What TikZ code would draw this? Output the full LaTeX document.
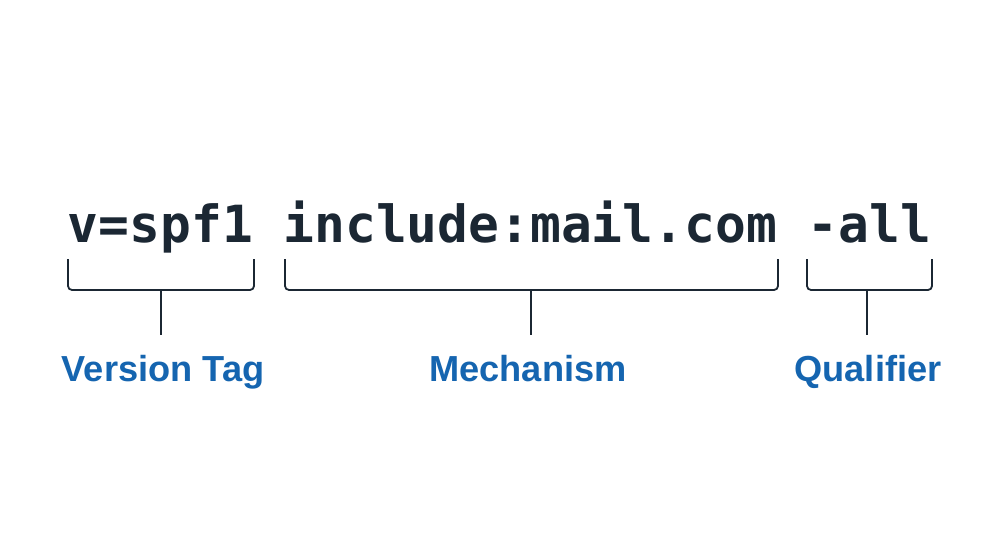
\documentclass[tikz,border=0pt]{standalone}
\usepackage{fontspec}
\setmainfont{Liberation Sans}
\newfontfamily\codefont{DejaVu Sans Mono}
\definecolor{ink}{HTML}{1B2733}
\definecolor{labblue}{HTML}{1565B0}
\begin{document}
\begin{tikzpicture}[x=1pt,y=-1pt,
  code/.style={inner sep=0pt,anchor=base,text=ink,font=\codefont\bfseries\fontsize{51.2}{60}\selectfont},
  lab/.style={inner sep=0pt,anchor=base,text=labblue,font=\bfseries\fontsize{36.2}{44}\selectfont},
  brace/.style={draw=ink,line width=1.8pt,rounded corners=4pt},
  stem/.style={draw=ink,line width=1.8pt}]
\useasboundingbox[fill=white] (0,0) rectangle (1000,545);
\node[code] (spf) at (499.5,243) {v=spf1 include:mail.com -all};
% brackets
\coordinate (b1) at (161,290);
\coordinate (b2) at (531,290);
\coordinate (b3) at (867,290);
\coordinate (s1) at (161,335);
\coordinate (s2) at (531,335);
\coordinate (s3) at (867,335);
\draw[brace] (68,259) -- (68,290) -- (254,290) -- (254,259);
\draw[brace] (285,259) -- (285,290) -- (778,290) -- (778,259);
\draw[brace] (807,259) -- (807,290) -- (932,290) -- (932,259);
\draw[stem] (b1) -- (s1);
\draw[stem] (b2) -- (s2);
\draw[stem] (b3) -- (s3);
% labels
\node[lab] (l1) at (163,381) {Version Tag};
\node[lab] (l2) at (528,381) {Mechanism};
\node[lab] (l3) at (868,381) {Qualifier};
\end{tikzpicture}
\end{document}
